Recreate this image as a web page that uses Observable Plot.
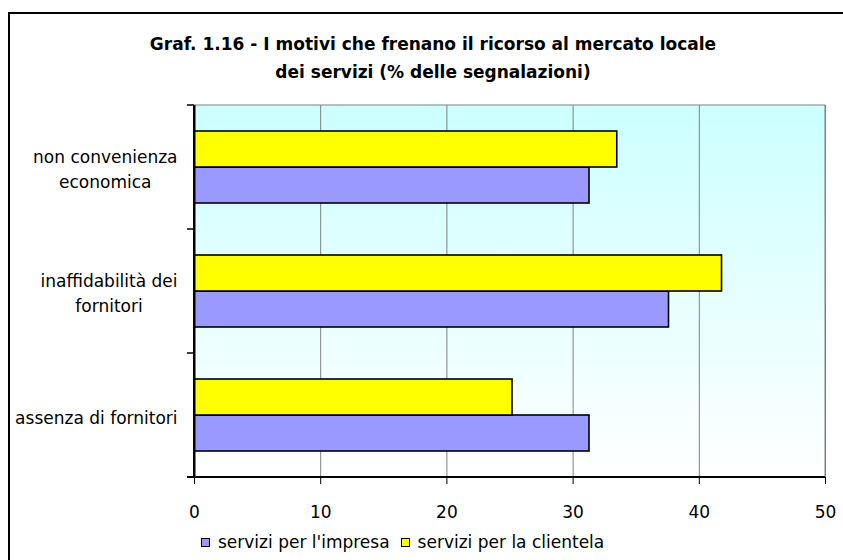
<!DOCTYPE html>
<html>
<head>
<meta charset="utf-8">
<script src="https://cdn.jsdelivr.net/npm/d3@7"></script>
<script src="https://cdn.jsdelivr.net/npm/@observablehq/plot@0.6"></script>
<style>
  html, body { margin: 0; padding: 0; background: #fff; width: 843px; height: 560px; overflow: hidden; }
  body { position: relative; font-family: "DejaVu Sans", Verdana, sans-serif; color: #000; }
  #frame { position: absolute; left: 8px; top: 12px; width: 860px; height: 600px; border: 2px solid #000; box-sizing: border-box; }
  #title { position: absolute; left: 0; top: 30px; width: 866px; text-align: center; font-weight: bold; font-size: 17px; line-height: 28px; }
  #chart { position: absolute; left: 0; top: 95px; }
  #legend { position: absolute; left: 201px; top: 532px; height: 20px; display: flex; align-items: center; font-size: 17px; white-space: nowrap; }
  #legend .key { display: inline-block; width: 7px; height: 7px; border: 1px solid #000; margin-right: 8px; }
  #legend .item { display: flex; align-items: center; margin-right: 11px; }
</style>
</head>
<body>
<div id="frame"></div>
<div id="title">Graf. 1.16 - I motivi che frenano il ricorso al mercato locale<br>dei servizi (% delle segnalazioni)</div>
<div id="chart"></div>
<div id="legend"></div>
<script>
// Reasons holding back the use of the local services market (% of mentions)
const categories = ["non convenienza economica", "inaffidabilità dei fornitori", "assenza di fornitori"];
const categoryLabels = ["non convenienza\neconomica", "inaffidabilità dei\nfornitori", "assenza di fornitori"];
const seriesNames = ["servizi per l'impresa", "servizi per la clientela"];
const impresa = [31.3, 37.6, 31.3];
const clientela = [33.5, 41.8, 25.2];
const xTicks = [0, 10, 20, 30, 40, 50];
const seriesColors = ["#9999FF", "#FFFF00"];

const FONT = "DejaVu Sans";
const FONT_SIZE = 17;

const rows = categories.flatMap((c, i) => [
  {category: c, series: seriesNames[0], value: impresa[i]},
  {category: c, series: seriesNames[1], value: clientela[i]}
]);

// Category labels: the block sits right-aligned against the axis, its lines centred within it
const ctx = document.createElement("canvas").getContext("2d");
ctx.font = `${FONT_SIZE}px "${FONT}"`;
const labelMarks = categories.map((c, i) => {
  const w = d3.max(categoryLabels[i].split("\n"), s => ctx.measureText(s).width);
  return Plot.text(rows, {
    filter: d => d.category === c && d.series === seriesNames[0],
    frameAnchor: "left",
    text: () => categoryLabels[i],
    textAnchor: "middle",
    lineHeight: 1.5,
    fontSize: FONT_SIZE,
    fill: "#000",
    dx: -(17 + w / 2)
  });
});

const chart = Plot.plot({
  width: 843,
  height: 430,
  marginTop: 10,
  marginBottom: 48,
  marginLeft: 194,
  marginRight: 18,
  style: {fontFamily: FONT, fontSize: FONT_SIZE + "px", color: "#000", background: "transparent", overflow: "visible"},
  facet: {data: rows, y: "category"},
  fy: {domain: categories, padding: 0, axis: null, label: null},
  y: {domain: [seriesNames[1], seriesNames[0]], paddingInner: 0, paddingOuter: 0.7, axis: null, label: null},
  x: {domain: [0, 50], ticks: xTicks, tickSize: 7, tickPadding: 21, tickFormat: d => String(d), label: null},
  color: {domain: seriesNames, range: seriesColors},
  marks: [
    Plot.ruleX(xTicks.slice(1), {stroke: "#808080", strokeWidth: 1}),
    Plot.barX(rows, {x: "value", y: "series", fill: "series", stroke: "#000", strokeWidth: 1.6}),
    Plot.ruleX([0], {stroke: "#000", strokeWidth: 2}),
    ...labelMarks
  ]
});

// Plot-area background, category boundary ticks and the x axis line
const xs = chart.scale("x");
const fys = chart.scale("fy");
const [px0, px1] = xs.range;
const [py0, py1] = d3.extent(fys.range);
const svg = d3.select(chart);
const defs = svg.insert("defs", ":first-child");
const grad = defs.append("linearGradient").attr("id", "plot-bg").attr("x1", 0).attr("y1", 0).attr("x2", 0).attr("y2", 1);
grad.append("stop").attr("offset", "0%").attr("stop-color", "#CCFFFF");
grad.append("stop").attr("offset", "100%").attr("stop-color", "#FFFFFF");
const first = chart.querySelector("defs").nextSibling;
const bg = document.createElementNS("http://www.w3.org/2000/svg", "rect");
chart.insertBefore(bg, first);
d3.select(bg)
  .attr("x", px0).attr("y", py0).attr("width", px1 - px0).attr("height", py1 - py0)
  .attr("fill", "url(#plot-bg)").attr("stroke", "#808080").attr("stroke-width", 1);

const axes = svg.append("g").attr("stroke", "#000");
const bounds = categories.map(c => fys.apply(c)).concat([fys.apply(categories[categories.length - 1]) + fys.bandwidth]);
axes.selectAll("line.ytick").data(bounds).join("line")
  .attr("x1", px0 - 7).attr("x2", px0).attr("y1", d => d).attr("y2", d => d).attr("stroke-width", 1.5);
axes.append("line").attr("x1", px0 - 7).attr("x2", px1).attr("y1", py1).attr("y2", py1).attr("stroke-width", 2);
axes.append("line").attr("x1", px0).attr("x2", px0).attr("y1", py0).attr("y2", py1).attr("stroke-width", 2);

document.getElementById("chart").appendChild(chart);

// Legend
const legend = d3.select("#legend");
seriesNames.forEach((s, i) => {
  const item = legend.append("span").attr("class", "item");
  item.append("span").attr("class", "key").style("background", seriesColors[i]);
  item.append("span").text(s);
});
</script>
</body>
</html>
